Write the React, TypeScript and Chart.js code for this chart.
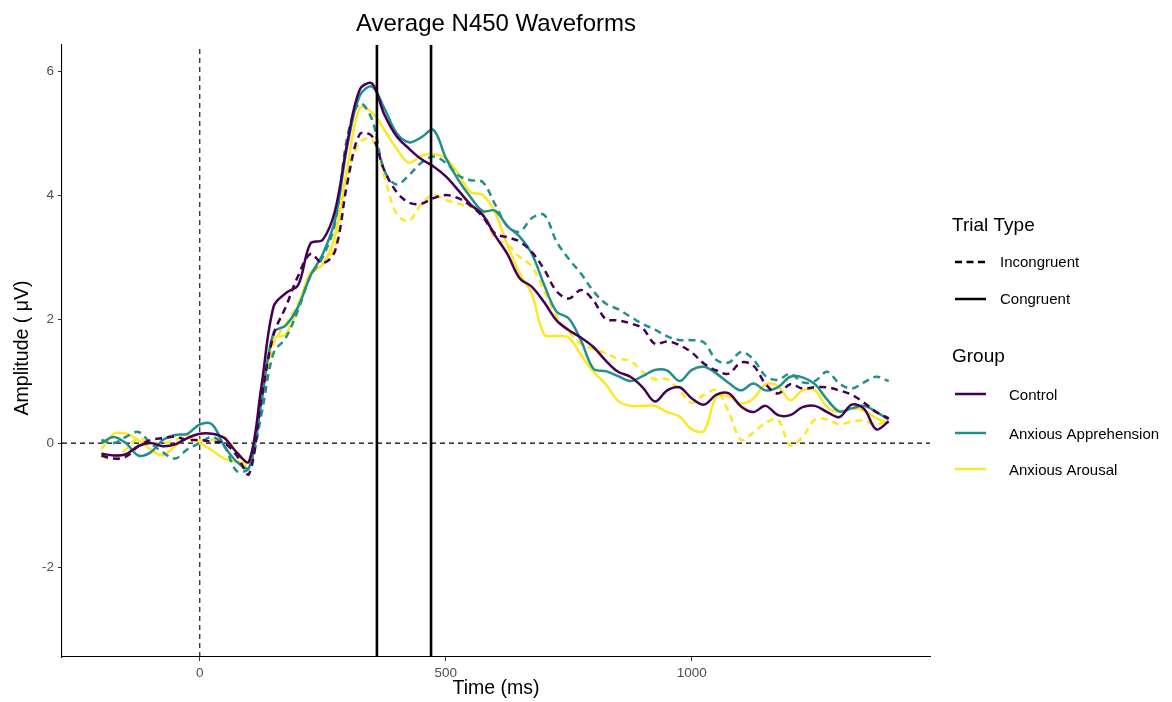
import React, { useEffect, useRef } from "react";
import { Chart, registerables } from "chart.js";

Chart.register(...registerables);

const FONT = "'Liberation Sans', Arial, sans-serif";

const times = [
  -200, -175, -150, -125, -100, -75, -50, -25, 0, 25, 50, 75, 100,
  125, 150, 175, 200, 225, 250, 275, 300, 325, 350, 375, 400,
  425, 450, 475, 500, 525, 550, 575, 600, 625, 650, 675, 700,
  725, 750, 775, 800, 825, 850, 875, 900, 925, 950, 975, 1000,
  1025, 1050, 1075, 1100, 1125, 1150, 1175, 1200, 1225, 1250, 1275, 1300,
  1325, 1350, 1375, 1400,
];

const controlCongruent = [
  -0.17, -0.2, -0.18, -0.05, 0.0, -0.05, -0.02, 0.08, 0.15, 0.15, 0.08, -0.15, -0.3,
  0.9, 2.2, 2.42, 2.55, 3.22, 3.28, 3.75, 4.85, 5.7, 5.8, 5.3, 4.95,
  4.75, 4.58, 4.46, 4.3, 4.08, 3.85, 3.68, 3.35, 3.05, 2.66, 2.52, 2.27,
  1.98, 1.82, 1.7, 1.55, 1.33, 1.15, 1.07, 0.9, 0.67, 0.85, 0.9, 0.72,
  0.62, 0.78, 0.8, 0.59, 0.5, 0.6, 0.45, 0.45, 0.58, 0.6, 0.5, 0.42,
  0.62, 0.55, 0.22, 0.35,
];
const controlIncongruent = [
  -0.2, -0.25, -0.22, -0.05, 0.05, 0.08, 0.1, 0.05, 0.05, 0.02, 0.0, -0.2, -0.5,
  0.7, 1.75, 2.2, 2.7, 3.05, 2.9, 3.1, 4.2, 4.98, 4.95, 4.4, 4.05,
  3.88, 3.86, 3.95, 4.0, 3.95, 3.83, 3.65, 3.38, 3.32, 3.25, 3.08, 2.8,
  2.45, 2.33, 2.47, 2.3, 2.0, 1.98, 1.93, 1.85, 1.6, 1.64, 1.58, 1.46,
  1.28, 1.17, 1.12, 1.3, 1.25, 0.95, 0.8, 0.95, 0.88, 0.9, 0.9, 0.85,
  0.78, 0.65, 0.5, 0.4,
];
const apprehensionCongruent = [
  0.0, 0.1, 0.0, -0.2, -0.15, 0.05, 0.13, 0.15, 0.3, 0.3, -0.05, -0.3, -0.4,
  0.65, 1.78, 1.9, 2.2, 2.7, 3.05, 3.6, 4.8, 5.6, 5.75, 5.4, 5.0,
  4.85, 4.93, 5.05, 4.6, 4.25, 3.97, 3.74, 3.75, 3.5, 3.33, 3.05, 2.55,
  2.12, 2.01, 1.65, 1.2, 1.16, 1.08, 1.0, 1.08, 1.18, 1.17, 1.0, 1.18,
  1.23, 1.12, 0.97, 0.85, 0.96, 0.85, 0.9, 1.07, 1.06, 0.95, 0.7, 0.51,
  0.56, 0.6, 0.5, 0.38,
];
const apprehensionIncongruent = [
  0.05, 0.0, 0.1, 0.18, 0.0, -0.15, -0.25, -0.1, 0.0, 0.1, -0.05, -0.45, -0.4,
  0.45, 1.45, 1.7, 2.15, 2.7, 3.0, 3.55, 4.95, 5.48, 5.22, 4.4, 4.17,
  4.32, 4.52, 4.62, 4.52, 4.32, 4.24, 4.21, 3.85, 3.5, 3.41, 3.63, 3.68,
  3.25, 2.97, 2.73, 2.45, 2.25, 2.16, 2.04, 1.92, 1.83, 1.72, 1.66, 1.66,
  1.62, 1.34, 1.3, 1.47, 1.35, 1.08, 1.02, 1.12, 0.98, 1.0, 1.15, 0.96,
  0.88, 0.98, 1.07, 1.0,
];
const arousalCongruent = [
  -0.1, 0.15, 0.15, 0.05, -0.1, -0.2, -0.05, 0.08, 0.0, -0.12, -0.25, -0.3, -0.3,
  0.7, 1.68, 1.76, 2.2, 2.75, 2.88, 3.35, 4.45, 5.4, 5.33, 5.05, 4.75,
  4.52, 4.63, 4.66, 4.59, 4.35, 4.05, 4.0, 3.72, 3.2, 2.74, 2.4, 1.75,
  1.73, 1.7, 1.42, 1.15, 0.95, 0.68, 0.6, 0.6, 0.6, 0.5, 0.43, 0.22,
  0.2, 0.75, 0.75, 0.64, 0.72, 0.95, 0.92, 0.69, 0.85, 0.85, 0.58, 0.5,
  0.56, 0.52, 0.4, 0.32,
];
const arousalIncongruent = [
  -0.22, -0.25, -0.1, 0.08, 0.0, 0.0, 0.05, 0.12, 0.05, 0.05, 0.1, -0.15, -0.4,
  0.55, 1.6, 1.92, 2.25, 2.7, 2.9, 3.17, 4.3, 4.85, 4.9, 4.3, 3.7,
  3.58, 3.85, 4.0, 3.92, 3.86, 3.81, 3.75, 3.3, 3.2, 3.0, 2.85, 2.45,
  2.05, 1.8, 1.6, 1.52, 1.45, 1.36, 1.33, 1.15, 1.03, 1.03, 0.85, 0.65,
  0.78, 0.85, 0.5, 0.05, 0.17, 0.33, 0.38, -0.04, 0.1, 0.38, 0.38, 0.3,
  0.35, 0.36, 0.3, 0.38,
];

const groups = ["Control", "Anxious Apprehension", "Anxious Arousal"];
const groupColors = ["#440154", "#21908C", "#FDE725"];
const trialTypes = ["Incongruent", "Congruent"];
const windowLines = [360, 470];
const xTicks = [0, 500, 1000];
const yTicks = [-2, 0, 2, 4, 6];
const xRange = [-280, 1484];
const yRange = [-3.45, 6.42];

const title = "Average N450 Waveforms";
const xTitle = "Time (ms)";
const yTitle = "Amplitude ( \u03BCV)";

const toPts = (vals: number[]) => times.map((t, i) => ({ x: t, y: vals[i] }));

const overlayPlugin = {
  id: "overlay",
  afterDraw(chart: any) {
    const ctx = chart.ctx;
    const area = chart.chartArea;
    ctx.save();
    ctx.fillStyle = "#000";
    ctx.textBaseline = "middle";
    ctx.font = `24px ${FONT}`;
    ctx.textAlign = "center";
    ctx.fillText(title, (area.left + area.right) / 2, 24);
    ctx.font = `19.5px ${FONT}`;
    ctx.fillText(xTitle, (area.left + area.right) / 2, 689);
    ctx.save();
    ctx.translate(23, (area.top + area.bottom) / 2 - 3);
    ctx.rotate(-Math.PI / 2);
    ctx.fillText(yTitle, 0, 0);
    ctx.restore();

    ctx.textAlign = "left";
    ctx.font = `19px ${FONT}`;
    ctx.fillText("Trial Type", 952, 226);
    ctx.font = `15px ${FONT}`;
    const trialY = [262, 299];
    trialTypes.forEach((tt, i) => {
      ctx.beginPath();
      ctx.strokeStyle = "#000";
      ctx.lineWidth = 2.5;
      ctx.setLineDash(i === 0 ? [7, 4.5] : []);
      ctx.moveTo(955, trialY[i]);
      ctx.lineTo(986, trialY[i]);
      ctx.stroke();
      ctx.setLineDash([]);
      ctx.fillText(tt, 1000, trialY[i] + 1);
    });
    ctx.font = `19px ${FONT}`;
    ctx.fillText("Group", 952, 357);
    ctx.font = `15px ${FONT}`;
    const groupY = [394, 433, 469];
    groups.forEach((g, i) => {
      ctx.beginPath();
      ctx.strokeStyle = groupColors[i];
      ctx.lineWidth = 2.5;
      ctx.moveTo(955, groupY[i]);
      ctx.lineTo(986, groupY[i]);
      ctx.stroke();
      ctx.fillText(g, 1009, groupY[i] + 2);
    });
    ctx.restore();
  },
};

export default function App() {
  const ref = useRef<HTMLCanvasElement | null>(null);
  useEffect(() => {
    if (!ref.current) return;
    const seriesSets = [
      [controlIncongruent, controlCongruent],
      [apprehensionIncongruent, apprehensionCongruent],
      [arousalIncongruent, arousalCongruent],
    ];
    const curveDatasets: any[] = [];
    seriesSets.forEach((pair, gi) => {
      pair.forEach((vals, ti) => {
        curveDatasets.push({
          label: `${groups[gi]} ${trialTypes[ti]}`,
          data: toPts(vals),
          borderColor: groupColors[gi],
          borderWidth: 2.5,
          borderDash: ti === 0 ? [7, 5] : [],
          pointRadius: 0,
          tension: 0.35,
          fill: false,
          order: 5,
        });
      });
    });
    const refDatasets: any[] = [
      {
        label: "zero-h",
        data: [
          { x: xRange[0], y: 0 },
          { x: xRange[1], y: 0 },
        ],
        borderColor: "#000",
        borderWidth: 1.1,
        borderDash: [5, 4],
        pointRadius: 0,
        order: 10,
      },
      {
        label: "zero-v",
        data: [
          { x: 0, y: yRange[0] },
          { x: 0, y: yRange[1] },
        ],
        borderColor: "#000",
        borderWidth: 1.1,
        borderDash: [5, 4],
        pointRadius: 0,
        order: 10,
      },
      ...windowLines.map((w) => ({
        label: `win-${w}`,
        data: [
          { x: w, y: yRange[0] },
          { x: w, y: yRange[1] },
        ],
        borderColor: "#000",
        borderWidth: 2.6,
        pointRadius: 0,
        order: 0,
      })),
    ];

    const chart = new Chart(ref.current, {
      type: "line",
      data: { datasets: [...refDatasets, ...curveDatasets] },
      options: {
        responsive: false,
        animation: false,
        devicePixelRatio: 1,
        layout: { padding: { top: 45, right: 242, bottom: 0, left: 0 } },
        plugins: {
          legend: { display: false },
          tooltip: { enabled: false },
          title: { display: false },
        },
        scales: {
          x: {
            type: "linear",
            min: xRange[0],
            max: xRange[1],
            afterBuildTicks: (s: any) => {
              s.ticks = xTicks.map((v) => ({ value: v }));
            },
            afterFit: (s: any) => {
              s.height = 45;
            },
            grid: {
              display: true,
              drawOnChartArea: false,
              drawTicks: true,
              tickLength: 4,
              color: "#333",
            },
            border: { display: true, color: "#000", width: 1.1 },
            ticks: {
              color: "#4d4d4d",
              font: { size: 13.5, family: FONT },
              padding: 4,
              maxRotation: 0,
              callback: (v: any) => String(v),
            },
          },
          y: {
            type: "linear",
            min: yRange[0],
            max: yRange[1],
            afterBuildTicks: (s: any) => {
              s.ticks = yTicks.map((v) => ({ value: v }));
            },
            afterFit: (s: any) => {
              s.width = 62;
            },
            grid: {
              display: true,
              drawOnChartArea: false,
              drawTicks: true,
              tickLength: 4,
              color: "#333",
            },
            border: { display: true, color: "#000", width: 1.1 },
            ticks: {
              color: "#4d4d4d",
              font: { size: 13.5, family: FONT },
              padding: 4,
              callback: (v: any) => String(v),
            },
          },
        },
      } as any,
      plugins: [overlayPlugin],
    });
    return () => chart.destroy();
  }, []);

  return (
    <div style={{ position: "absolute", left: 0, top: 0, width: 1172, height: 702, background: "#fff" }}>
      <canvas ref={ref} width={1172} height={702} style={{ width: 1172, height: 702, display: "block" }} />
    </div>
  );
}
